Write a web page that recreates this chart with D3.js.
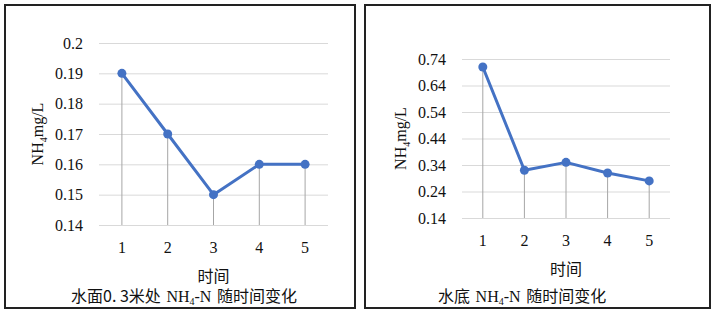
<!DOCTYPE html>
<html>
<head>
<meta charset="utf-8">
<script src="https://cdn.jsdelivr.net/npm/d3@7"></script>
<style>
  body { margin: 0; background: #fff; }
  svg { display: block; }
</style>
</head>
<body>
<div id="container"></div>
<script>
// data
const times = ["1", "2", "3", "4", "5"];
const surfaceValues = [0.19, 0.17, 0.15, 0.16, 0.16];
const bottomValues = [0.71, 0.32, 0.35, 0.31, 0.28];
const surfaceTicks = [0.14, 0.15, 0.16, 0.17, 0.18, 0.19, 0.2];
const bottomTicks = [0.14, 0.24, 0.34, 0.44, 0.54, 0.64, 0.74];

const svg = d3.select("#container").append("svg")
  .attr("width", 713)
  .attr("height", 314);

const serif = "Liberation Serif";
const cjk = "Noto Sans CJK SC";

function drawPanel(opts) {
  const { box, plot, values, ticks, titleX, titleParts } = opts;

  // panel frame
  svg.append("rect")
    .attr("x", box.x).attr("y", box.y)
    .attr("width", box.w).attr("height", box.h)
    .attr("fill", "#fff")
    .attr("stroke", "#222")
    .attr("stroke-width", 2);

  const x = d3.scaleBand()
    .domain(times)
    .range([plot.x0, plot.x1]);

  const y = d3.scaleLinear()
    .domain([ticks[0], ticks[ticks.length - 1]])
    .range([plot.y1, plot.y0]);

  // gridlines + y labels
  const yAxis = svg.append("g")
    .attr("transform", `translate(${plot.x0},0)`)
    .call(d3.axisLeft(y).tickValues(ticks).tickSize(-(plot.x1 - plot.x0)).tickPadding(16)
      .tickFormat(d => String(+d.toFixed(2))))
    .attr("font-family", serif)
    .attr("font-size", 16);
  yAxis.select(".domain").remove();
  yAxis.selectAll("line").attr("stroke", "#d9d9d9").attr("stroke-width", 1);
  yAxis.selectAll("text").attr("fill", "#111");

  // x axis labels
  const xAxis = svg.append("g")
    .attr("transform", `translate(0,${plot.y1})`)
    .call(d3.axisBottom(x).tickSize(0).tickPadding(17))
    .attr("font-family", serif)
    .attr("font-size", 16);
  xAxis.select(".domain").remove();
  xAxis.selectAll("text").attr("fill", "#111");

  const cx = d => x(d) + x.bandwidth() / 2;

  // drop lines
  svg.append("g").selectAll("line")
    .data(values)
    .join("line")
    .attr("x1", (d, i) => cx(times[i]))
    .attr("x2", (d, i) => cx(times[i]))
    .attr("y1", d => y(d))
    .attr("y2", plot.y1)
    .attr("stroke", "#a6a6a6")
    .attr("stroke-width", 1);

  // line
  const line = d3.line()
    .x((d, i) => cx(times[i]))
    .y(d => y(d));

  svg.append("path")
    .datum(values)
    .attr("d", line)
    .attr("fill", "none")
    .attr("stroke", "#4472c4")
    .attr("stroke-width", 3)
    .attr("stroke-linejoin", "round");

  svg.append("g").selectAll("circle")
    .data(values)
    .join("circle")
    .attr("cx", (d, i) => cx(times[i]))
    .attr("cy", d => y(d))
    .attr("r", 4.5)
    .attr("fill", "#4472c4");

  // y axis title
  const yt = svg.append("text")
    .attr("transform", `translate(${plot.x0 - 56},${(plot.y0 + plot.y1) / 2}) rotate(-90)`)
    .attr("text-anchor", "middle")
    .attr("font-family", serif)
    .attr("font-size", 16)
    .attr("fill", "#111");
  yt.append("tspan").text("NH");
  yt.append("tspan").text("4").attr("font-size", 10).attr("dy", 4);
  yt.append("tspan").text("mg/L").attr("dy", -4);

  // x axis title
  svg.append("text")
    .attr("x", (plot.x0 + plot.x1) / 2)
    .attr("y", plot.y1 + 57)
    .attr("text-anchor", "middle")
    .attr("font-family", cjk)
    .attr("font-size", 16)
    .attr("fill", "#111")
    .text("时间");

  // chart title
  const t = svg.append("text")
    .attr("x", titleX)
    .attr("y", box.y + box.h - 6)
    .attr("font-family", cjk)
    .attr("font-size", 16)
    .attr("fill", "#111");
  t.append("tspan").text(titleParts[0]);
  t.append("tspan").text("NH").attr("font-family", serif).attr("dx", 2);
  t.append("tspan").text("4").attr("font-family", serif).attr("font-size", 10).attr("dy", 3);
  t.append("tspan").text("-N").attr("font-family", serif).attr("dy", -3);
  t.append("tspan").text(titleParts[1]).attr("dx", 2);
}

drawPanel({
  box: { x: 5, y: 5, w: 350, h: 303 },
  plot: { x0: 99, x1: 328, y0: 43, y1: 225 },
  values: surfaceValues,
  ticks: surfaceTicks,
  titleX: 71,
  titleParts: ["水面0. 3米处 ", " 随时间变化"]
});

drawPanel({
  box: { x: 365, y: 5, w: 345, h: 303 },
  plot: { x0: 462, x1: 670, y0: 59, y1: 218 },
  values: bottomValues,
  ticks: bottomTicks,
  titleX: 438,
  titleParts: ["水底 ", " 随时间变化"]
});
</script>
</body>
</html>
